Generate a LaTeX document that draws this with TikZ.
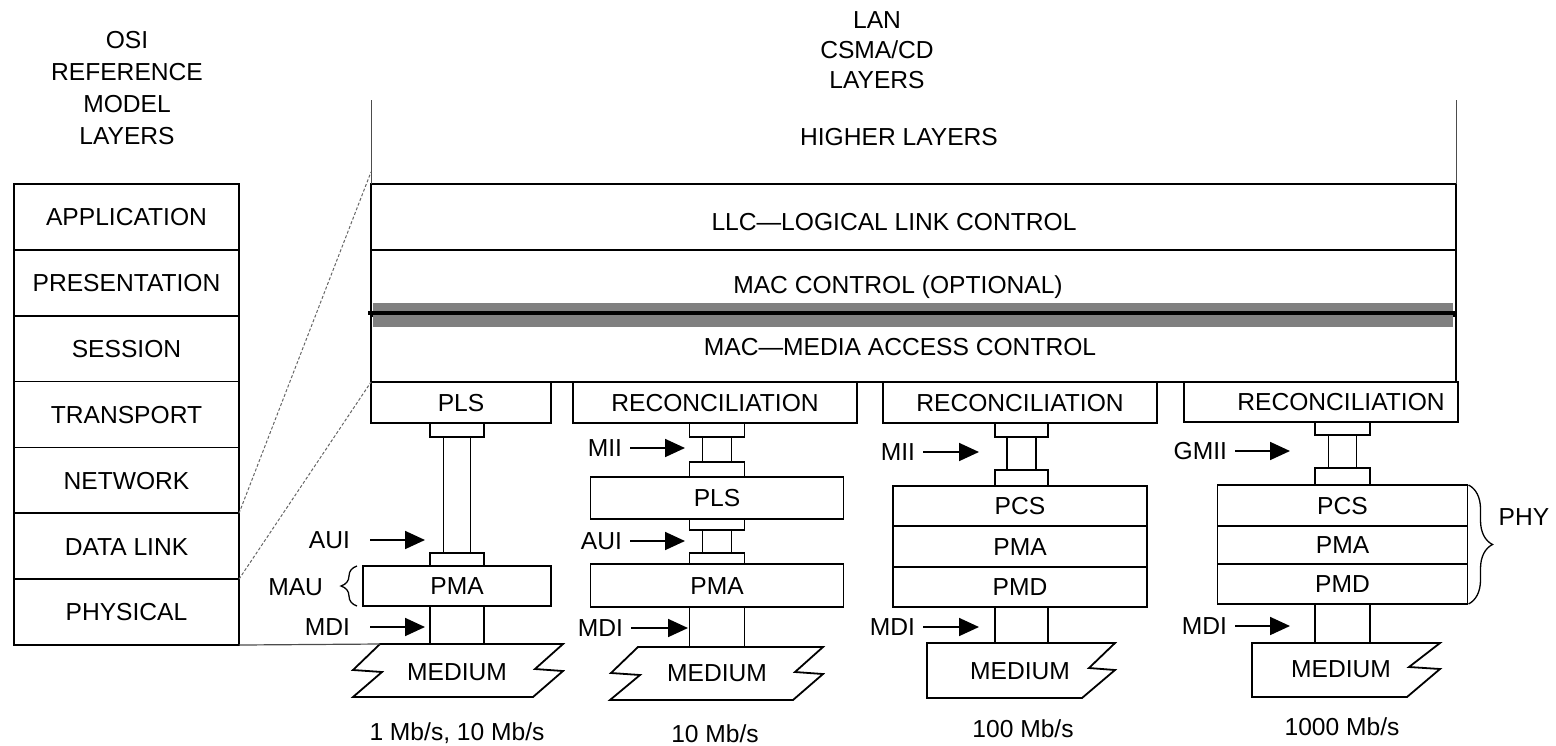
\documentclass[tikz,border=0pt]{standalone}
\usepackage{fontspec}
\setmainfont{Liberation Sans}
\usetikzlibrary{arrows.meta,positioning,decorations.pathreplacing}
\newcommand{\labfont}{\fontsize{24.6}{32}\selectfont}

\begin{document}
\begin{tikzpicture}[x=1pt, y=-1pt, >={Triangle[length=20pt,width=18pt]},
  every node/.style={font=\labfont, inner sep=0pt, outer sep=0pt},
  lbl/.style={text height=17.6pt, text depth=0pt},
  layerbox/.style={lbl, draw, line width=1.8pt, fill=white},
  plug/.style={draw, line width=1.8pt, fill=white},
  osibox/.style={layerbox, minimum width=225pt, minimum height=65.86pt},
  mainbox/.style={layerbox, minimum width=1085pt, minimum height=66pt},
  medium/.style={draw, line width=1.8pt, fill=white},
  arr/.style={->, line width=1.8pt, shorten <=8pt},
  guide/.style={black!60, line width=1pt, dash pattern=on 3pt off 2pt},
  brc/.style={decorate, decoration={brace, amplitude=#1}, line width=1.3pt},
  heading/.style={align=center}]
\useasboundingbox (0,0) rectangle (1556,745);

% OSI side
\node[heading] (osititle) at (127,88) {OSI\\REFERENCE\\MODEL\\LAYERS};
\foreach \name/\txt [count=\i] in {app/APPLICATION, pres/PRESENTATION, sess/SESSION, trans/TRANSPORT, net/NETWORK, dlink/DATA LINK, phys/PHYSICAL}
  \node[osibox] (\name) at (126.5,{184+65.86*(\i-0.5)}) {\txt};

% LAN side
\node[heading, font=\fontsize{24.6}{30}\selectfont] (lantitle) at (877,50) {LAN\\CSMA/CD\\LAYERS};
\node[lbl] (higher) at (899,137) {HIGHER LAYERS};
\node[mainbox] (llc) at (913.5,217) {};
\node[mainbox] (macctl) at (913.5,283) {};
\node[mainbox] (mac) at (913.5,349) {};
\fill[black!50] (373,303) rectangle (1453,327);
\draw[line width=4pt] (368,313) -- (1457,313);
\node[lbl] (llctext) at (894,222) {LLC---LOGICAL LINK CONTROL};
\node[lbl] (macctltext) at (898,285) {MAC CONTROL (OPTIONAL)};
\node[lbl] (mactext) at (900,347) {MAC---MEDIA ACCESS CONTROL};
\draw[black!70, line width=1pt] (llc.north west) -- ++(0,-84);
\draw[black!70, line width=1pt] (llc.north east) -- ++(0,-84);

% 1 Mb/s, 10 Mb/s
\node[layerbox, minimum width=180pt, minimum height=41pt] (pls1) at (461,402.5) {PLS};
\node[plug, minimum width=54pt, minimum height=14pt, below=0pt of pls1, xshift=-4pt] (top1) {};
\node[plug, minimum width=27pt, minimum height=116pt, below=0pt of top1] (stem1) {};
\node[plug, minimum width=54pt, minimum height=13pt, below=0pt of stem1] (bot1) {};
\node[layerbox, minimum width=188pt, minimum height=40pt, below=0pt of bot1] (pma1) {PMA};
\node[plug, minimum width=54pt, minimum height=38pt, below=0pt of pma1] (mdi1) {};
\draw[medium] (380,644) -- (563,644) -- (535,669) -- (563,671) -- (533,697) -- (353,697) -- (382,672) -- (353,670) -- cycle;
\node[lbl] (med1) at (457,672) {MEDIUM};
\coordinate (aui1tip) at (425,540);
\node[lbl, left=75pt of aui1tip] (aui1) {AUI};
\draw[arr, shorten <=20pt] (aui1) -- (aui1tip);
\coordinate (mdi1tip) at (425,627);
\node[lbl, left=75pt of mdi1tip] (mdi1lbl) {MDI};
\draw[arr, shorten <=20pt] (mdi1lbl) -- (mdi1tip);
\node[lbl, anchor=east] (mau) at (323,587) {MAU};
\draw[brc=16pt] ([xshift=-6pt]pma1.south west) -- ([xshift=-6pt]pma1.north west);
\node[anchor=base] (spd1) at (457,740) {1 Mb/s, 10 Mb/s};

% 10 Mb/s
\node[layerbox, minimum width=284pt, minimum height=41pt] (rec2) at (715,402.5) {RECONCILIATION};
\node[plug, minimum width=55pt, minimum height=14pt, below=0pt of rec2, xshift=2pt] (top2) {};
\node[plug, minimum width=29pt, minimum height=25pt, below=0pt of top2] (stem2) {};
\node[plug, minimum width=55pt, minimum height=15pt, below=0pt of stem2] (bot2) {};
\node[layerbox, minimum width=253pt, minimum height=42pt, below=0pt of bot2] (pls2) {PLS};
\node[plug, minimum width=55pt, minimum height=11pt, below=0pt of pls2] (top2b) {};
\node[plug, minimum width=29pt, minimum height=23pt, below=0pt of top2b] (stem2b) {};
\node[plug, minimum width=55pt, minimum height=11pt, below=0pt of stem2b] (bot2b) {};
\node[layerbox, minimum width=253pt, minimum height=43pt, below=0pt of bot2b] (pma2) {PMA};
\node[plug, minimum width=55pt, minimum height=40pt, below=0pt of pma2] (mdi2) {};
\draw[medium] (638,647) -- (823,647) -- (795,672) -- (823,674) -- (793,700) -- (610,700) -- (640,675) -- (611,673) -- cycle;
\node[lbl] (med2) at (717,673) {MEDIUM};
\coordinate (mii2tip) at (685,448);
\node[lbl, left=63pt of mii2tip] (mii2) {MII};
\draw[arr] (mii2) -- (mii2tip);
\coordinate (aui2tip) at (685,541);
\node[lbl, left=63pt of aui2tip] (aui2) {AUI};
\draw[arr] (aui2) -- (aui2tip);
\coordinate (mdi2tip) at (688,628);
\node[lbl, left=65pt of mdi2tip] (mdi2lbl) {MDI};
\draw[arr] (mdi2lbl) -- (mdi2tip);
\node[anchor=base] (spd2) at (715,742) {10 Mb/s};

% 100 Mb/s
\node[layerbox, minimum width=274pt, minimum height=41pt] (rec3) at (1020,402.5) {RECONCILIATION};
\node[plug, minimum width=53pt, minimum height=14pt, below=0pt of rec3, xshift=1.5pt] (top3) {};
\node[plug, minimum width=29pt, minimum height=33pt, below=0pt of top3] (stem3) {};
\node[plug, minimum width=53pt, minimum height=16pt, below=0pt of stem3] (bot3) {};
\node[layerbox, minimum width=254pt, minimum height=40pt, below=0pt of bot3, xshift=-1.5pt] (pcs3) {PCS};
\node[layerbox, minimum width=254pt, minimum height=41pt, below=0pt of pcs3] (pma3) {PMA};
\node[layerbox, minimum width=254pt, minimum height=40pt, below=0pt of pma3] (pmd3) {PMD};
\node[plug, minimum width=53pt, minimum height=36pt, below=0pt of pmd3, xshift=1.5pt] (mdi3) {};
\draw[medium] (927,643) -- (1115,643) -- (1089,668) -- (1115,670) -- (1082,698) -- (927,698) -- cycle;
\node[lbl] (med3) at (1020,671) {MEDIUM};
\coordinate (mii3tip) at (979,452);
\node[lbl, left=64pt of mii3tip] (mii3) {MII};
\draw[arr] (mii3) -- (mii3tip);
\coordinate (mdi3tip) at (979,627);
\node[lbl, left=64pt of mdi3tip] (mdi3lbl) {MDI};
\draw[arr] (mdi3lbl) -- (mdi3tip);
\node[anchor=base] (spd3) at (1023,737) {100 Mb/s};

% 1000 Mb/s
\node[layerbox, minimum width=274pt, minimum height=40pt] (rec4) at (1321,402) {\hspace*{40pt}RECONCILIATION};
\node[plug, minimum width=55pt, minimum height=13pt, below=0pt of rec4, xshift=21.5pt] (top4) {};
\node[plug, minimum width=28pt, minimum height=33pt, below=0pt of top4] (stem4) {};
\node[plug, minimum width=55pt, minimum height=17pt, below=0pt of stem4] (bot4) {};
\node[layerbox, minimum width=250pt, minimum height=41pt, below=0pt of bot4] (pcs4) {PCS};
\node[layerbox, minimum width=250pt, minimum height=38pt, below=0pt of pcs4] (pma4) {PMA};
\node[layerbox, minimum width=250pt, minimum height=40pt, below=0pt of pma4] (pmd4) {PMD};
\node[plug, minimum width=55pt, minimum height=39pt, below=0pt of pmd4] (mdi4) {};
\draw[medium] (1252,643) -- (1440,643) -- (1409,667) -- (1440,669) -- (1407,697) -- (1252,697) -- cycle;
\node[lbl] (med4) at (1341,669) {MEDIUM};
\coordinate (gmii4tip) at (1290,451);
\node[lbl, left=63pt of gmii4tip] (gmii4) {GMII};
\draw[arr] (gmii4) -- (gmii4tip);
\coordinate (mdi4tip) at (1290,626);
\node[lbl, left=63pt of mdi4tip] (mdi4lbl) {MDI};
\draw[arr] (mdi4lbl) -- (mdi4tip);
\draw[brc=24pt] ([xshift=1pt]pcs4.north east) -- ([xshift=1pt]pmd4.south east);
\node[lbl] (phy) at (1524,517) {PHY};
\node[anchor=base] (spd4) at (1342,735) {1000 Mb/s};

% OSI to LAN guides
\draw[guide] (net.south east) -- ([yshift=12pt]llc.north west);
\draw[guide] (dlink.south east) -- (mac.south west);
\coordinate (med1tl) at (380,644);
\draw[black!70, line width=1.2pt] (phys.south east) -- (med1tl);
\end{tikzpicture}
\end{document}
